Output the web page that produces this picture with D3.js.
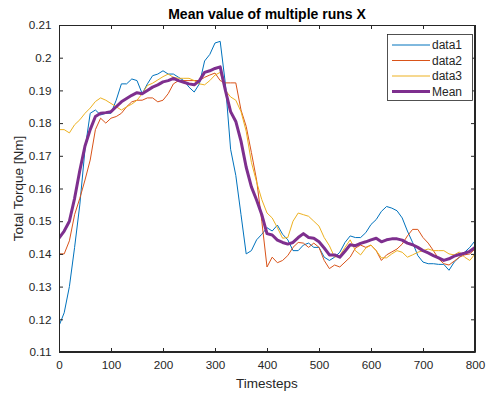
<!DOCTYPE html>
<html><head><meta charset="utf-8">
<script src="https://cdn.jsdelivr.net/npm/d3@7/dist/d3.min.js"></script>
<style>body{margin:0;background:#fff;} svg{display:block;}</style>
</head><body>
<svg id="chart" width="486" height="397"></svg>
<script>
const timesteps = d3.range(0, 801, 10);
const data1 = [0.118,0.122,0.130,0.142,0.155,0.172,0.183,0.184,0.1825,0.183,0.183,0.187,0.192,0.192,0.1935,0.193,0.189,0.192,0.1945,0.195,0.196,0.195,0.195,0.194,0.193,0.191,0.1895,0.192,0.199,0.201,0.2045,0.205,0.192,0.172,0.164,0.152,0.140,0.141,0.1443,0.146,0.148,0.147,0.1488,0.146,0.1443,0.141,0.141,0.1427,0.1433,0.142,0.142,0.139,0.138,0.139,0.1405,0.1435,0.1455,0.145,0.145,0.1465,0.149,0.1505,0.153,0.1545,0.154,0.1532,0.151,0.147,0.1435,0.1395,0.1375,0.137,0.137,0.1368,0.1368,0.135,0.1375,0.139,0.1405,0.142,0.144];
const data2 = [0.140,0.140,0.144,0.152,0.157,0.1626,0.1687,0.178,0.1815,0.180,0.1815,0.182,0.183,0.185,0.1865,0.187,0.187,0.1877,0.1877,0.1865,0.187,0.189,0.192,0.193,0.193,0.193,0.193,0.193,0.194,0.1947,0.1953,0.193,0.1923,0.1923,0.1923,0.184,0.179,0.171,0.1626,0.150,0.136,0.139,0.1373,0.138,0.1395,0.142,0.1435,0.1433,0.142,0.1433,0.142,0.138,0.1355,0.1366,0.136,0.1375,0.139,0.1418,0.1427,0.142,0.1427,0.141,0.138,0.1397,0.1406,0.1415,0.143,0.1455,0.1475,0.1475,0.145,0.1433,0.141,0.1385,0.137,0.1366,0.1378,0.139,0.1397,0.140,0.1415];
const data3 = [0.178,0.178,0.177,0.1795,0.181,0.183,0.1846,0.1866,0.1877,0.187,0.186,0.185,0.184,0.185,0.1858,0.187,0.189,0.1915,0.1922,0.1932,0.1942,0.195,0.194,0.1937,0.1937,0.1937,0.193,0.192,0.1917,0.193,0.1947,0.1955,0.190,0.188,0.187,0.1835,0.1775,0.168,0.162,0.1566,0.1525,0.151,0.148,0.1448,0.145,0.150,0.1525,0.152,0.1515,0.150,0.1485,0.145,0.1425,0.139,0.1395,0.142,0.1443,0.141,0.1397,0.1418,0.1427,0.141,0.1388,0.1388,0.140,0.141,0.1405,0.139,0.1397,0.1405,0.141,0.1415,0.141,0.141,0.141,0.140,0.1397,0.1406,0.139,0.138,0.140];
const meanValues = [0.1448,0.147,0.150,0.157,0.1655,0.173,0.178,0.182,0.183,0.1832,0.1835,0.185,0.1865,0.1875,0.1885,0.1893,0.189,0.190,0.191,0.1917,0.1926,0.193,0.1937,0.193,0.1925,0.192,0.1917,0.193,0.1955,0.196,0.1967,0.1972,0.190,0.1835,0.1805,0.1745,0.1665,0.1605,0.1565,0.152,0.1462,0.1458,0.1442,0.1435,0.143,0.1435,0.145,0.1462,0.145,0.1448,0.1437,0.1418,0.1397,0.1397,0.139,0.1408,0.1428,0.1425,0.1432,0.1437,0.1443,0.1448,0.1437,0.1443,0.1446,0.1446,0.1442,0.1433,0.1428,0.142,0.141,0.1403,0.1395,0.1388,0.138,0.1385,0.1393,0.1398,0.1402,0.1408,0.142];
const seriesNames = ["data1","data2","data3","Mean"];
const xTicks = [0,100,200,300,400,500,600,700,800];
const yTicks = [0.11,0.12,0.13,0.14,0.15,0.16,0.17,0.18,0.19,0.2,0.21];
const yTickLabels = ["0.11","0.12","0.13","0.14","0.15","0.16","0.17","0.18","0.19","0.2","0.21"];
const titleText = "Mean value of multiple runs X";
const xLabel = "Timesteps";
const yLabel = "Total Torque [Nm]";

const colors = ["#0072BD","#D95319","#EDB120","#7E2F8E"];
const widths = [1,1,1,3];
const allSeries = [data1,data2,data3,meanValues];

const L=59,R=475,T=25,B=352;
const svg = d3.select("#chart");
const font = "'Liberation Sans', Arial, Helvetica, sans-serif";
const axisCol = "#262626";
const x = d3.scaleLinear().domain([0,800]).range([L,R]);
const y = d3.scaleLinear().domain([0.11,0.21]).range([B,T]);

svg.append("rect").attr("x",L).attr("y",T).attr("width",R-L).attr("height",B-T).attr("fill","#fff");

const g = svg.append("g");
svg.append("clipPath").attr("id","clip").append("rect").attr("x",L).attr("y",T).attr("width",R-L).attr("height",B-T);
const lines = g.append("g").attr("clip-path","url(#clip)");
const line = d3.line().x((d,i)=>x(timesteps[i])).y(d=>y(d));
allSeries.forEach((s,k)=>{
  lines.append("path").attr("d",line(s)).attr("fill","none").attr("stroke",colors[k]).attr("stroke-width",widths[k]).attr("stroke-linejoin","round");
});

const xAxis = d3.axisBottom(x).tickValues(xTicks).tickSizeInner(-4).tickSizeOuter(0).tickPadding(9).tickFormat(d3.format("d"));
const yAxis = d3.axisLeft(y).tickValues(yTicks).tickSizeInner(-4).tickSizeOuter(0).tickPadding(7.5).tickFormat((d,i)=>yTickLabels[i]);
const xTop = d3.axisTop(x).tickValues(xTicks).tickSizeInner(-4).tickSizeOuter(0).tickFormat("");
const yRight = d3.axisRight(y).tickValues(yTicks).tickSizeInner(-4).tickSizeOuter(0).tickFormat("");
function style(sel){
  sel.selectAll("path").attr("stroke",axisCol);
  sel.selectAll("line").attr("stroke",axisCol);
  sel.selectAll("text").attr("fill",axisCol).style("font-family",font).style("font-size","11.7px");
}
svg.append("g").attr("transform",`translate(0,${B})`).call(xAxis).call(style);
svg.append("g").attr("transform",`translate(${L},0)`).call(yAxis).call(style);
svg.append("g").attr("transform",`translate(0,${T})`).call(xTop).call(style);
svg.append("g").attr("transform",`translate(${R},0)`).call(yRight).call(style);
svg.append("rect").attr("x",L+0.5).attr("y",T+0.5).attr("width",R-L-1).attr("height",B-T-1).attr("fill","none").attr("stroke",axisCol).attr("stroke-width",1);

svg.append("text").attr("x",(L+R)/2).attr("y",19).attr("text-anchor","middle").style("font-family",font).style("font-size","14px").style("font-weight","bold").attr("fill","#000").text(titleText);
svg.append("text").attr("x",(L+R)/2).attr("y",388).attr("text-anchor","middle").style("font-family",font).style("font-size","13.5px").attr("fill",axisCol).text(xLabel);
svg.append("text").attr("transform",`translate(22.5,${(T+B)/2}) rotate(-90)`).attr("text-anchor","middle").style("font-family",font).style("font-size","13.5px").attr("fill",axisCol).text(yLabel);

const lg = svg.append("g");
lg.append("rect").attr("x",387.5).attr("y",34.5).attr("width",85).attr("height",66).attr("fill","#fff").attr("stroke",axisCol).attr("stroke-width",0.8);
seriesNames.forEach((n,k)=>{
  const yy = 45 + k*15.5;
  lg.append("line").attr("x1",392).attr("x2",430).attr("y1",yy).attr("y2",yy).attr("stroke",colors[k]).attr("stroke-width",widths[k]);
  lg.append("text").attr("x",432).attr("y",yy+4.3).style("font-family",font).style("font-size","12px").attr("fill",axisCol).text(n);
});
</script>
</body></html>
